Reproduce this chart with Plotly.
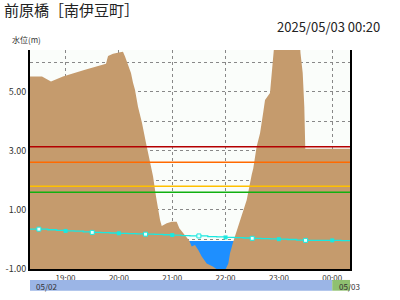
import plotly.graph_objects as go
import pandas as pd

title = "前原橋［南伊豆町］"
stamp = "2025/05/03 00:20"
ylabel = "水位(m)"
t_start = "2025-05-02 18:20"
t_end = "2025-05-03 00:20"
day_change = "2025-05-03 00:00"
date_labels = ["05/02", "05/03"]

# water level every 10 minutes (m)
levels = [0.35, 0.35, 0.33, 0.31, 0.29, 0.28, 0.26, 0.24, 0.23, 0.22,
          0.21, 0.20, 0.19, 0.18, 0.17, 0.16, 0.15, 0.13, 0.12, 0.12,
          0.10, 0.09, 0.07, 0.06, 0.05, 0.04, 0.03, 0.02, 0.01, 0.00,
          -0.02, -0.03, -0.03, -0.03, -0.03, -0.04, -0.05]

# river cross-section (minutes from start of axis, elevation m)
profile_min = [0.0, 13.5, 23.6, 37.1, 61.9, 85.5, 87.8, 93.4, 101.3, 104.6,
               106.9, 110.3, 113.6, 115.9, 118.1, 121.5, 126.0, 130.5, 133.9, 136.1,
               138.4, 141.8, 144.0, 146.3, 148.2, 153.8, 159.4, 165.0, 168.0, 172.5,
               176.3, 179.2, 181.9, 185.6, 189.3, 193.2, 198.8, 202.5, 206.2, 211.8,
               219.4, 223.1, 225.0, 228.7, 231.8, 235.5, 240.0, 243.8, 249.4, 251.2,
               255.0, 258.8, 262.5, 264.4, 270.0, 271.9, 273.7, 274.8, 303.8, 304.3,
               306.8, 308.6, 309.7, 360.0]
profile_z = [5.52, 5.52, 5.35, 5.52, 5.75, 5.95, 6.22, 6.29, 6.34, 6.36,
             6.20, 5.92, 5.64, 5.31, 5.07, 4.50, 3.95, 3.27, 2.81, 2.42,
             2.14, 1.45, 1.00, 0.66, 0.46, 0.55, 0.60, 0.60, 0.38, 0.21,
             0.06, -0.04, -0.24, -0.19, -0.36, -0.58, -0.81, -0.86, -0.92, -1.05,
             -1.05, -0.81, -0.47, -0.07, 0.21, 0.55, 1.00, 1.34, 2.19, 2.41,
             3.15, 3.60, 4.33, 4.73, 4.96, 5.52, 6.25, 6.60, 6.60, 6.32,
             5.64, 4.50, 3.07, 3.07]

thresholds = [3.14, 2.62, 1.80, 1.60]
threshold_colors = ["#b40000", "#ff6a00", "#ffc000", "#10b010"]
y_tickvals = [-1, 0, 1, 2, 3, 4, 5, 6]
y_ticktext = ["-1.00", "", "1.00", "", "3.00", "", "5.00", ""]
y_range = [-1.0, 6.42]

level_times = pd.date_range(t_start, t_end, freq="10min")
t0 = pd.Timestamp(t_start)
profile_t = [t0 + pd.Timedelta(minutes=m) for m in profile_min]
bottom = y_range[0] - 1

BROWN = "#c59b6d"
WATER = "#1e8fff"
CYAN = "#1ae8e0"
FONT = "Noto Sans CJK JP"

fig = go.Figure()

# water body (covered by ground outside the channel)
fig.add_trace(go.Scatter(
    x=[t0, pd.Timestamp(t_end), pd.Timestamp(t_end), t0],
    y=[levels[-1], levels[-1], bottom, bottom],
    fill="toself", fillcolor=WATER, line=dict(width=0), mode="lines",
    hoverinfo="skip", showlegend=False))

# ground
fig.add_trace(go.Scatter(
    x=profile_t + [pd.Timestamp(t_end), t0],
    y=profile_z + [bottom, bottom],
    fill="toself", fillcolor=BROWN, line=dict(width=0, color=BROWN), mode="lines",
    hoverinfo="skip", showlegend=False))

# water level line
fig.add_trace(go.Scatter(
    x=level_times, y=levels, mode="lines", line=dict(color=CYAN, width=1.3, shape="hv"),
    showlegend=False))

on_hour = [t for t in level_times if t.minute == 0]
on_half = [t for t in level_times if t.minute == 30]
lv = dict(zip(level_times, levels))
fig.add_trace(go.Scatter(
    x=on_hour, y=[lv[t] for t in on_hour], mode="markers",
    marker=dict(symbol="square", size=4, color=CYAN), showlegend=False))
fig.add_trace(go.Scatter(
    x=on_half, y=[lv[t] for t in on_half], mode="markers",
    marker=dict(symbol="square", size=4, color="#e8fffe", line=dict(color=CYAN, width=1)),
    showlegend=False))

shapes = []
for v, c in zip(thresholds, threshold_colors):
    shapes.append(dict(type="line", xref="paper", yref="y", x0=0, x1=1, y0=v, y1=v,
                       line=dict(color=c, width=1.5)))
# date bar
shapes.append(dict(type="rect", xref="x", yref="paper", x0=t0, x1=day_change,
                   y0=-0.099, y1=-0.05, fillcolor="#9bb5e6", line=dict(width=0)))
shapes.append(dict(type="rect", xref="x", yref="paper", x0=day_change, x1=t_end,
                   y0=-0.099, y1=-0.05, fillcolor="#8fc070", line=dict(width=0)))

annotations = [
    dict(text=title, xref="paper", yref="paper", x=-0.087, y=1.183, xanchor="left",
         yanchor="middle", showarrow=False, font=dict(family=FONT, size=15, color="#222")),
    dict(text=stamp, xref="paper", yref="paper", x=1.10, y=1.106, xanchor="right",
         yanchor="middle", showarrow=False, font=dict(family=FONT, size=13, color="#222")),
    dict(text=ylabel, xref="paper", yref="paper", x=-0.063, y=1.046, xanchor="left",
         yanchor="middle", showarrow=False, font=dict(family=FONT, size=8, color="#333")),
    dict(text=date_labels[0], xref="x", yref="paper", x=t0 + pd.Timedelta(minutes=5),
         y=-0.078, xanchor="left", yanchor="middle", showarrow=False,
         font=dict(family=FONT, size=8, color="#333")),
    dict(text=date_labels[1], xref="x", yref="paper",
         x=pd.Timestamp(day_change) + pd.Timedelta(minutes=5),
         y=-0.082, xanchor="left", yanchor="middle", showarrow=False,
         font=dict(family=FONT, size=8, color="#333")),
]

fig.update_layout(
    width=400, height=300,
    margin=dict(l=30, r=50, t=50, b=31),
    paper_bgcolor="white", plot_bgcolor="#fafdfa",
    shapes=shapes, annotations=annotations,
    xaxis=dict(type="date", range=[t_start, t_end], tickformat="%H:%M",
               dtick=3600000, tick0="2025-05-02 19:00",
               showgrid=True, gridcolor="#888", griddash="dot", gridwidth=1,
               showline=True, linecolor="black", linewidth=2, ticks="",
               ticklabelstandoff=0,
               tickfont=dict(family=FONT, size=8, color="#333"), automargin=False,
               layer="above traces", zeroline=False, fixedrange=True),
    yaxis=dict(range=y_range, tickvals=y_tickvals, ticktext=y_ticktext,
               showgrid=True, gridcolor="#888", griddash="dot", gridwidth=1,
               showline=True, linecolor="black", linewidth=2, mirror=True, ticks="",
               tickfont=dict(family=FONT, size=9, color="#333"), automargin=False,
               layer="above traces", zeroline=False, fixedrange=True),
    showlegend=False,
)

fig.write_html("out.html")
